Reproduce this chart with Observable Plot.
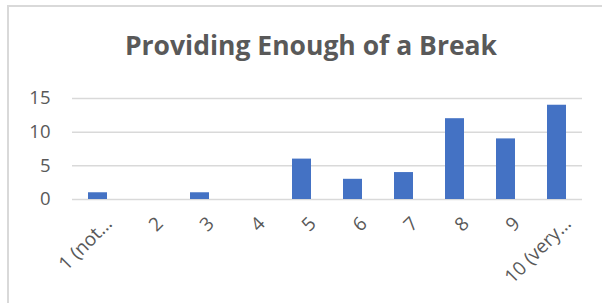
<!DOCTYPE html>
<html>
<head>
<meta charset="utf-8">
<script src="https://cdn.jsdelivr.net/npm/d3@7"></script>
<script src="https://cdn.jsdelivr.net/npm/@observablehq/plot@0.6"></script>
<style>
  html, body { margin: 0; padding: 0; background: #fff; }
  #wrap { position: relative; width: 602px; height: 303px; overflow: hidden; }
  #frame { position: absolute; left: 7px; top: 5px; width: 640px; height: 340px;
           border-left: 2px solid #d9d9d9; border-top: 2px solid #d9d9d9; box-sizing: border-box; }
  #title { position: absolute; left: 0; top: 27px; width: 622px; text-align: center;
           font-family: "Open Sans", sans-serif; font-weight: bold; font-size: 26.5px;
           color: #595959; line-height: 36px; }
  #chart { position: absolute; left: 0; top: 0; }
</style>
</head>
<body>
<div id="wrap">
  <div id="frame"></div>
  <div id="title">Providing Enough of a Break</div>
  <div id="chart"></div>
</div>
<script>
const categories = ["1 (not…", "2", "3", "4", "5", "6", "7", "8", "9", "10 (very…"];
const counts = [1, 0, 1, 0, 6, 3, 4, 12, 9, 14];
const yTicks = [0, 5, 10, 15];

const data = categories.map((c, i) => ({category: c, count: counts[i]}));

const plot = Plot.plot({
  width: 602,
  height: 303,
  marginLeft: 72,
  marginRight: 20,
  marginTop: 98,
  marginBottom: 104,
  style: {fontFamily: "'Open Sans', sans-serif", fontSize: "17px", color: "#595959", background: "transparent", overflow: "visible"},
  x: {domain: categories, paddingInner: 0.63, paddingOuter: 0.315, label: null},
  y: {domain: [0, 15], label: null},
  marks: [
    Plot.gridY(yTicks, {stroke: "#d9d9d9", strokeOpacity: 1, strokeWidth: 1.5}),
    Plot.barY(data, {x: "category", y: "count", fill: "#4472C4"}),
    Plot.axisY(yTicks, {tickSize: 0, tickPadding: 22, fontSize: 18.5, fill: "#595959", label: null}),
    Plot.axisX({tickSize: 0, tickPadding: 10, tickRotate: -45, fontSize: 19, fill: "#595959", label: null, dx: 11, dy: 11})
  ]
});
document.getElementById("chart").appendChild(plot);
</script>
</body>
</html>
